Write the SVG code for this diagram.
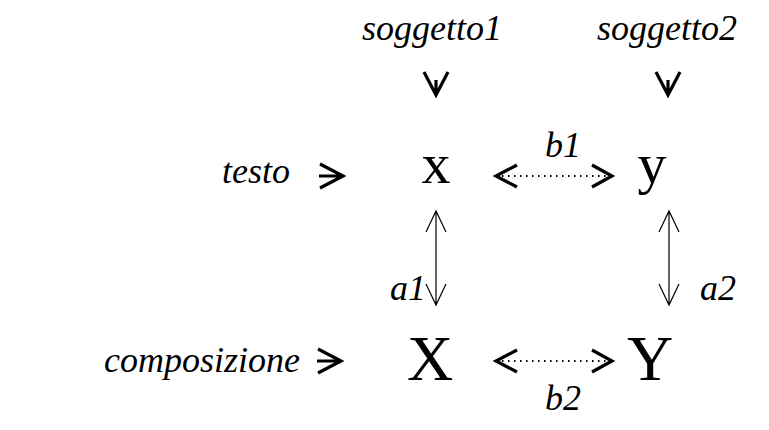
<svg xmlns="http://www.w3.org/2000/svg" width="769" height="430" viewBox="0 0 769 430">
<style>
.lbl{font-family:"Liberation Serif","Times New Roman",serif;font-style:italic;font-size:36px;fill:#000}
.big{font-family:"Liberation Serif","Times New Roman",serif;font-size:58px;fill:#000}
.cap{font-family:"Liberation Serif","Times New Roman",serif;font-size:64px;fill:#000}
.bold{fill:none;stroke:#000;stroke-width:3.2;stroke-linecap:butt;stroke-linejoin:miter}
.thin{fill:none;stroke:#000;stroke-width:1.2}
.dot{fill:none;stroke:#000;stroke-width:2;stroke-dasharray:1.5 4.5}
</style>
<rect width="769" height="430" fill="#fff"/>
<g id="soggetto1"><text class="lbl" x="362" y="40">soggetto1</text></g>
<g id="soggetto2"><text class="lbl" x="597" y="40">soggetto2</text></g>
<g id="testo"><text class="lbl" x="222" y="183">testo</text></g>
<g id="composizione"><text class="lbl" x="104" y="372">composizione</text></g>
<g id="node-x"><text class="big" x="436" y="183" text-anchor="middle">x</text></g>
<g id="node-y"><text class="big" x="652" y="183" text-anchor="middle">y</text></g>
<g id="node-X"><text class="cap" x="430" y="380" text-anchor="middle">X</text></g>
<g id="node-Y"><text class="cap" x="650" y="380" text-anchor="middle">Y</text></g>
<g id="connectors">
  <path class="bold" d="M424 72 L436 95 L448 72 M436 80 L436 95"/>
  <path class="bold" d="M656 72 L668 95 L680 72 M668 80 L668 95"/>
  <path class="bold" d="M320 164 L343 176 L320 188 M319 176 L343 176"/>
  <path class="bold" d="M318 349 L341 361 L318 373 M317 361 L341 361"/>
  <path class="bold" d="M517 165 L496 176 L517 187 M592 165 L612 176 L592 187"/>
  <path class="dot" d="M502 176 L607 176"/>
  <path class="bold" d="M517 350 L496 361 L517 372 M592 350 L612 361 L592 372"/>
  <path class="dot" d="M502 361 L607 361"/>
  <path class="thin" d="M436 211 L436 305 M426 232 L436 211 L446 232 M426 284 L436 305 L446 284"/>
  <path class="thin" d="M669 211 L669 305 M659 232 L669 211 L679 232 M659 284 L669 305 L679 284"/>
  <text class="lbl" x="545" y="157">b1</text>
  <text class="lbl" x="545" y="410">b2</text>
  <text class="lbl" x="390" y="300">a1</text>
  <text class="lbl" x="700" y="300">a2</text>
</g>
</svg>
